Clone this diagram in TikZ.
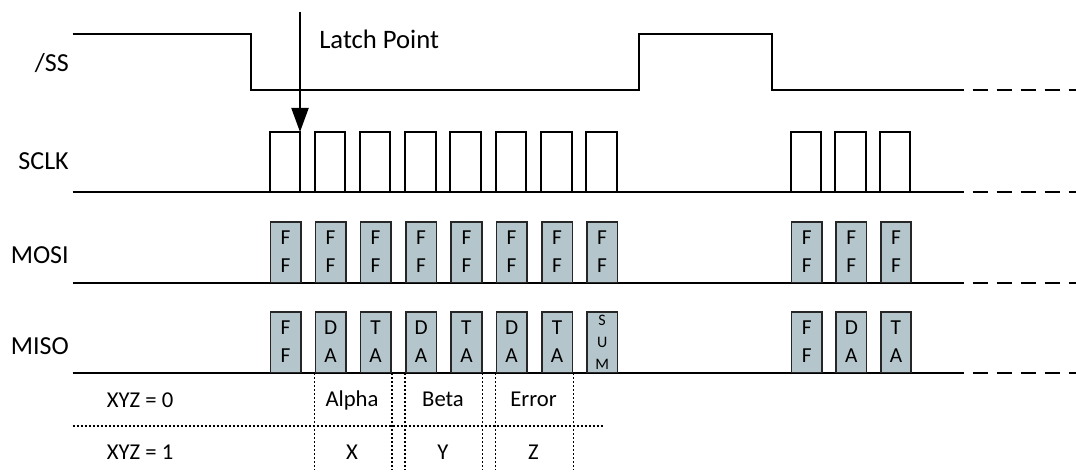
\documentclass[tikz,border=0pt]{standalone}
\usepackage{fontspec}
\setmainfont{Carlito}
\usetikzlibrary{arrows.meta,calc}
\definecolor{boxfill}{RGB}{180,198,204}
\begin{document}
\begin{tikzpicture}[x=0.75pt,y=-0.75pt,
  wave/.style={line width=1.5pt, line join=miter},
  tail/.style={line width=1.5pt, dash pattern=on 11.5pt off 6.5pt},
  dotline/.style={line width=1.1pt, dash pattern=on 1.5pt off 1.5pt},
  sig/.style={anchor=base east, inner sep=0pt, font=\fontsize{19.5}{22}\selectfont},
  cell/.style={draw=black!85, line width=1.3pt, fill=boxfill, anchor=south west,
    minimum width=22.9pt, minimum height=45.5pt, inner sep=0pt, align=center,
    font=\fontsize{16}{21}\selectfont},
  sumcell/.style={cell, font=\fontsize{12}{16.5}\selectfont},
  note/.style={inner sep=0pt, anchor=base, font=\fontsize{17}{20}\selectfont},
  latch/.style={-{Triangle[width=12.75pt,length=18pt]}, line width=1.5pt}]
\useasboundingbox (0,0) rectangle (1076,474);

% signal labels
\node[sig] (lss)   at (69,71.7)  {/SS};
\node[sig] (lsclk) at (69,170)   {SCLK};
\node[sig] (lmosi) at (69,263.5) {MOSI};
\node[sig] (lmiso) at (69,354.5) {MISO};

% /SS waveform
\draw[wave] (72.7,34) -- (250.7,34) -- (250.7,90) -- (638.8,90) -- (638.8,34)
  -- (771.8,34) -- (771.8,90) -- (948.5,90);
\draw[tail] (948.5,90) -- (1076,90);

% SCLK waveform
\draw[wave] (72.7,192.3) -- (948.5,192.3);
\draw[tail] (948.5,192.3) -- (1076,192.3);
\foreach \x in {269.5,314.5,359.5,405,450.3,495.5,541,586,790.6,835.2,879.8}
  \draw[wave] (\x,192.3) rectangle (\x+30.5,132);
\coordinate (p1top) at (300,132);

% MOSI
\draw[wave] (72.7,283.3) -- (948.5,283.3);
\draw[tail] (948.5,283.3) -- (1076,283.3);
\foreach \i/\x in {1/269.5,2/314.5,3/359.5,4/405,5/450.3,6/495.5,7/541,8/586,9/790.6,10/835.2,11/879.8}
  \node[cell] (mo\i) at (\x,283.3) {F\\F};

% MISO
\draw[wave] (72.7,373.3) -- (948.5,373.3);
\draw[tail] (948.5,373.3) -- (1076,373.3);
\foreach \i/\x/\a/\b in {1/269.5/F/F,2/314.5/D/A,3/359.5/T/A,4/405/D/A,5/450.3/T/A,
  6/495.5/D/A,7/541/T/A,9/790.6/F/F,10/835.2/D/A,11/879.8/T/A}
  \node[cell] (mi\i) at (\x,373.3) {\a\\\b};
\node[sumcell] (mi8) at (586,373.3) {S\\U\\M};

% latch point arrow
\coordinate (lt) at (300,12);
\draw[latch] (lt) -- (p1top);
\node[inner sep=0pt, anchor=base west, font=\fontsize{20}{22}\selectfont] (latchlbl) at (319,48.3) {Latch Point};

% table below
\coordinate (hl) at (72.7,426);
\coordinate (hr) at (603.3,426);
\draw[dotline] (hl) -- (hr);
\coordinate (bot) at (0,470);
\foreach \n/\a in {mi2/south west,mi3/south east,mi4/south west,mi5/south east,mi6/south west,mi7/south east}
  \draw[dotline] (\n.\a) -- (\n.\a |- bot);

\node[note, anchor=base west] (x0) at (106.7,407.2) {XYZ = 0};
\node[note, anchor=base west] (x1) at (106.7,459) {XYZ = 1};
\node[note] (alpha) at (352,406.5) {Alpha};
\node[note] (beta)  at (443,406.5) {Beta};
\node[note] (err)   at (533.5,406.5) {Error};
\node[note] (vx) at (352,459) {X};
\node[note] (vy) at (443,459) {Y};
\node[note] (vz) at (533.5,459) {Z};
\end{tikzpicture}
\end{document}
